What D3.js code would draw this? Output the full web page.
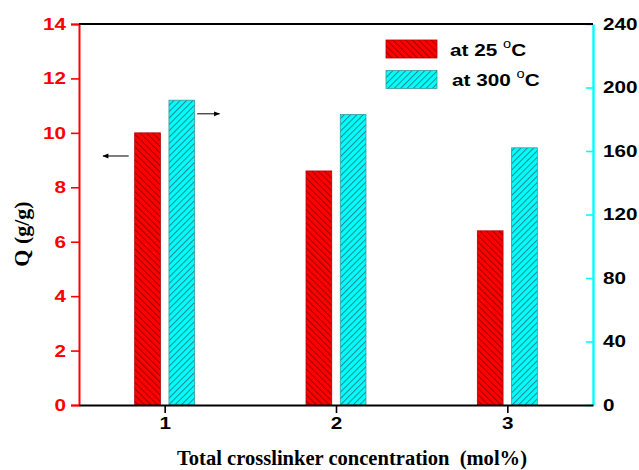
<!DOCTYPE html>
<html>
<head>
<meta charset="utf-8">
<script src="https://cdn.jsdelivr.net/npm/d3@7"></script>
<style>
  body { margin: 0; background: #fff; }
  svg { display: block; }
</style>
</head>
<body>
<div id="chart"></div>
<script>
// data
var categories = [1, 2, 3];
var q25 = [10.0, 8.6, 6.4];        // left axis, Q (g/g)
var q300 = [192, 183, 162];        // right axis
var leftTicks = [0, 2, 4, 6, 8, 10, 12, 14];
var rightTicks = [0, 40, 80, 120, 160, 200, 240];
var seriesNames = ['at 25 ', 'at 300 '];
// arrow annotations: [x0, x1, yLeftValue]
var arrows = [[0.79, 0.64, 9.15], [1.19, 1.32, 10.7]];

var width = 639, height = 470;
var mLeft = 79, mRight = 593, mTop = 24, mBottom = 405;
var tickFont = 'bold 17px Arial, "Liberation Sans", sans-serif';

var svg = d3.select('#chart').append('svg')
    .attr('width', width)
    .attr('height', height);

var x = d3.scaleLinear().domain([0.5, 3.5]).range([mLeft, mRight]);
var yL = d3.scaleLinear().domain([0, 14]).range([mBottom, mTop]);
var yR = d3.scaleLinear().domain([0, 240]).range([mBottom, mTop]);

// hatch patterns
var defs = svg.append('defs');
function hatch(id, fill, stroke, angle) {
    var p = defs.append('pattern')
        .attr('id', id)
        .attr('patternUnits', 'userSpaceOnUse')
        .attr('width', 4.5)
        .attr('height', 4.5)
        .attr('patternTransform', 'rotate(' + angle + ')');
    p.append('rect').attr('width', 4.5).attr('height', 4.5).attr('fill', fill);
    p.append('line')
        .attr('x1', 0.5).attr('y1', 0).attr('x2', 0.5).attr('y2', 4.5)
        .attr('stroke', stroke).attr('stroke-width', 1);
}
hatch('hRed', '#ff0000', '#a00000', -45);
hatch('hCyan', '#00ffff', '#1a8a8a', 45);

var barW = x(0.65) - x(0.5);

// bars
svg.selectAll('.bar25').data(categories).enter().append('rect')
    .attr('class', 'bar25')
    .attr('x', function(d) { return x(d - 0.1) - barW / 2; })
    .attr('y', function(d, i) { return yL(q25[i]); })
    .attr('width', barW)
    .attr('height', function(d, i) { return mBottom - yL(q25[i]); })
    .attr('fill', 'url(#hRed)')
    .attr('stroke', '#b00000')
    .attr('stroke-width', 0.8);

svg.selectAll('.bar300').data(categories).enter().append('rect')
    .attr('class', 'bar300')
    .attr('x', function(d) { return x(d + 0.1) - barW / 2; })
    .attr('y', function(d, i) { return yR(q300[i]); })
    .attr('width', barW)
    .attr('height', function(d, i) { return mBottom - yR(q300[i]); })
    .attr('fill', 'url(#hCyan)')
    .attr('stroke', '#3a9a9a')
    .attr('stroke-width', 0.8);

// tick labels in the figure are a bit wider than Arial
function widen(sel) {
    sel.style('font', tickFont)
        .attr('textLength', function() { return this.textContent.length * 11.5; })
        .attr('lengthAdjust', 'spacingAndGlyphs');
}

// left axis (red)
var gL = svg.append('g').attr('transform', 'translate(' + mLeft + ',0)');
gL.call(d3.axisLeft(yL).tickValues(d3.range(1, 14, 2)).tickSize(5).tickFormat(''));
gL.call(d3.axisLeft(yL).tickValues(leftTicks).tickSize(8).tickPadding(5).tickFormat(d3.format('d')));
gL.selectAll('path').attr('stroke', '#ff0000').attr('stroke-width', 2);
gL.selectAll('line').attr('stroke', '#ff0000').attr('stroke-width', 1.6);
gL.selectAll('text').attr('fill', '#ff0000').call(widen);

// right axis (cyan)
var gR = svg.append('g').attr('transform', 'translate(' + mRight + ',0)');
gR.call(d3.axisRight(yR).tickValues(d3.range(20, 240, 40)).tickSizeInner(-4).tickSizeOuter(0).tickFormat(''));
gR.call(d3.axisRight(yR).tickValues(rightTicks).tickSizeInner(-7).tickSizeOuter(0).tickPadding(10).tickFormat(d3.format('d')));
gR.selectAll('path').attr('stroke', '#00ffff').attr('stroke-width', 2.4);
gR.selectAll('line').attr('stroke', '#00ffff').attr('stroke-width', 1.6);
gR.selectAll('text').attr('fill', '#000').call(widen);

// top frame
svg.append('line')
    .attr('x1', mLeft).attr('x2', mRight)
    .attr('y1', mTop).attr('y2', mTop)
    .attr('stroke', '#000').attr('stroke-width', 2);

// bottom axis
var gB = svg.append('g').attr('transform', 'translate(0,' + mBottom + ')');
gB.call(d3.axisBottom(x).tickValues([1.5, 2.5]).tickSizeInner(5).tickSizeOuter(0).tickFormat(''));
gB.call(d3.axisBottom(x).tickValues(categories).tickSizeInner(8).tickSizeOuter(0).tickPadding(4).tickFormat(d3.format('d')));
gB.selectAll('path').attr('stroke', '#000').attr('stroke-width', 2);
gB.selectAll('line').attr('stroke', '#000').attr('stroke-width', 1.6);
gB.selectAll('text').attr('fill', '#000').call(widen);

// axis titles
svg.append('text')
    .attr('x', 352)
    .attr('y', 465)
    .attr('text-anchor', 'middle')
    .attr('textLength', 350)
    .attr('lengthAdjust', 'spacingAndGlyphs')
    .style('font', 'bold 20px "Times New Roman", "Liberation Serif", serif')
    .text('Total crosslinker concentration\u00a0 (mol%)');

svg.append('text')
    .attr('transform', 'translate(29,234) rotate(-90)')
    .attr('text-anchor', 'middle')
    .style('font', 'bold 22px "Times New Roman", "Liberation Serif", serif')
    .text('Q (g/g)');

// arrows
defs.append('marker')
    .attr('id', 'arrowHead')
    .attr('viewBox', '0 0 10 10')
    .attr('refX', 9).attr('refY', 5)
    .attr('markerWidth', 8).attr('markerHeight', 6)
    .attr('markerUnits', 'userSpaceOnUse')
    .attr('orient', 'auto')
    .append('path')
    .attr('d', 'M0,1 L10,5 L0,9 Z')
    .attr('fill', '#000');

svg.selectAll('.arrow').data(arrows).enter().append('line')
    .attr('class', 'arrow')
    .attr('x1', function(d) { return x(d[0]); })
    .attr('x2', function(d) { return x(d[1]); })
    .attr('y1', function(d) { return yL(d[2]); })
    .attr('y2', function(d) { return yL(d[2]); })
    .attr('stroke', '#000')
    .attr('stroke-width', 1)
    .attr('marker-end', 'url(#arrowHead)');

// legend
var fills = ['url(#hRed)', 'url(#hCyan)'];
var strokes = ['#b00000', '#3a9a9a'];
var leg = svg.append('g').attr('transform', 'translate(386,40)');
var items = leg.selectAll('g').data(seriesNames).enter().append('g')
    .attr('transform', function(d, i) { return 'translate(0,' + (i * 30.5) + ')'; });
items.append('rect')
    .attr('width', 51).attr('height', 18)
    .attr('fill', function(d, i) { return fills[i]; })
    .attr('stroke', function(d, i) { return strokes[i]; })
    .attr('stroke-width', 0.8);
var lt = items.append('g')
    .attr('transform', function(d, i) { return 'translate(' + (64 + i * 2) + ',15.5) scale(1.22,1)'; })
    .append('text')
    .style('font', 'bold 17px Arial, "Liberation Sans", sans-serif')
    .attr('fill', '#000');
lt.append('tspan').text(function(d) { return d; });
lt.append('tspan').attr('dy', -8).style('font-size', '12px').style('font-weight', 'normal').text('o');
lt.append('tspan').attr('dy', 8).text('C');
</script>
</body>
</html>
